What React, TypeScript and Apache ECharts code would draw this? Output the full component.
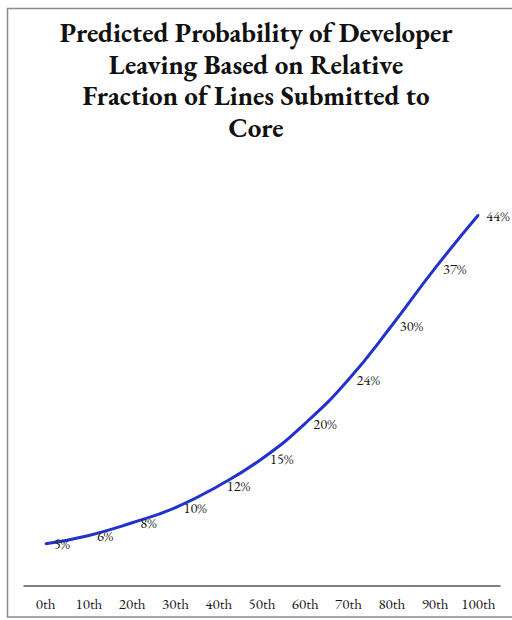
import React, { useEffect, useRef } from "react";
import * as echarts from "echarts";

const categories = ["0th", "10th", "20th", "30th", "40th", "50th", "60th", "70th", "80th", "90th", "100th"];
const probability = [5.0, 6.0, 7.5, 9.3, 11.9, 15.1, 19.3, 24.5, 30.9, 37.7, 44.0];
const pointLabels = ["5%", "6%", "8%", "10%", "12%", "15%", "20%", "24%", "30%", "37%", "44%"];
const titleText = "Predicted Probability of Developer\nLeaving Based on Relative\nFraction of Lines Submitted to\nCore";

const SERIF = "'EB Garamond', Garamond, 'Liberation Serif', 'DejaVu Serif', serif";

export default function App() {
  const ref = useRef<HTMLDivElement>(null);
  useEffect(() => {
    if (!ref.current) return;
    const chart = echarts.init(ref.current, undefined, { renderer: "svg" });
    chart.setOption({
      animation: false,
      backgroundColor: "#ffffff",
      title: {
        text: titleText,
        left: "center",
        top: 12,
        textStyle: {
          fontFamily: SERIF,
          fontWeight: "bold",
          fontSize: 27,
          lineHeight: 31.5,
          color: "#111111",
        },
      },
      graphic: [
        {
          type: "rect",
          shape: { x: 7.5, y: 8.5, width: 520, height: 608.5 },
          style: { fill: "none", stroke: "#8a8a8a", lineWidth: 1.5 },
          silent: true,
        },
      ],
      grid: { left: 24, right: 12, top: 164.5, bottom: 34 },
      xAxis: {
        type: "category",
        data: categories,
        boundaryGap: true,
        axisLine: { lineStyle: { color: "#555555", width: 1.5 } },
        axisTick: { show: false },
        axisLabel: {
          interval: 0,
          fontFamily: SERIF,
          fontSize: 15,
          color: "#1a1a1a",
          margin: 10,
        },
      },
      yAxis: {
        type: "value",
        min: 0,
        max: 50,
        show: false,
        splitLine: { show: false },
      },
      series: [
        {
          type: "line",
          data: probability,
          smooth: 0.5,
          symbol: "circle",
          symbolSize: 2,
          showSymbol: true,
          itemStyle: { color: "#2233cc" },
          lineStyle: { color: "#2233cc", width: 3 },
          label: {
            show: true,
            position: "right",
            distance: 7,
            formatter: (p: any) => pointLabels[p.dataIndex],
            fontFamily: SERIF,
            fontSize: 14.5,
            color: "#1a1a1a",
          },
          labelLayout: { hideOverlap: false },
        },
      ],
    });
    return () => chart.dispose();
  }, []);
  return (
    <div
      ref={ref}
      style={{ position: "fixed", left: 0, top: 0, width: 512, height: 620 }}
    />
  );
}
